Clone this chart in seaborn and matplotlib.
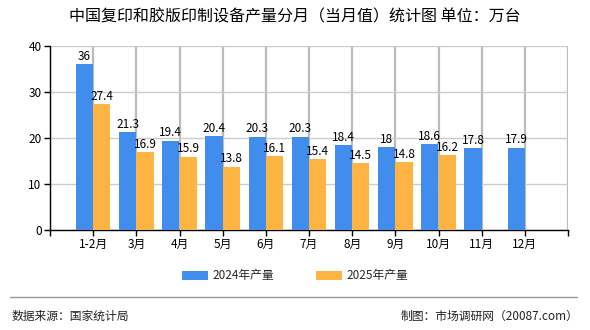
import matplotlib
matplotlib.use("Agg")
import matplotlib.pyplot as plt
import seaborn as sns
import pandas as pd
import numpy as np
from matplotlib.patches import Patch
from matplotlib.lines import Line2D

months = ["1-2月", "3月", "4月", "5月", "6月", "7月", "8月", "9月", "10月", "11月", "12月"]
v2024 = [36, 21.3, 19.4, 20.4, 20.3, 20.3, 18.4, 18, 18.6, 17.8, 17.9]
v2025 = [27.4, 16.9, 15.9, 13.8, 16.1, 15.4, 14.5, 14.8, 16.2, None, None]
series = ["2024年产量", "2025年产量"]
colors = ["#418DED", "#FDB443"]
title = "中国复印和胶版印制设备产量分月（当月值）统计图 单位：万台"
source = "数据来源：国家统计局"
credit = "制图：市场调研网（20087.com）"

sns.set_theme(style="white")
plt.rcParams["font.family"] = ["Noto Sans CJK SC", "DejaVu Sans"]

rows = []
for i, m in enumerate(months):
    rows.append({"pos": i + 1, "year": series[0], "value": v2024[i]})
    if v2025[i] is not None:
        rows.append({"pos": i + 1, "year": series[1], "value": v2025[i]})
df = pd.DataFrame(rows)

fig = plt.figure(figsize=(5.9, 3.3), dpi=100)
ax = fig.add_axes([50 / 590, 1 - 230 / 330, 518 / 590, 184 / 330])

sns.barplot(data=df, x="pos", y="value", hue="year", hue_order=series,
            palette=colors, native_scale=True, saturation=1, width=0.8,
            linewidth=0, ax=ax, legend=False, errorbar=None, zorder=3)

for c in ax.containers:
    labels = [f"{v:g}" for v in c.datavalues]
    ax.bar_label(c, labels=labels, padding=1, fontsize=8.5, color="black", zorder=4)

ax.set_xlim(0, 12)
ax.set_ylim(0, 40)
ax.set_xticks(range(0, 13))
ax.set_xticklabels([""] + months + [""], fontsize=8.5, color="black")
ax.set_yticks([0, 10, 20, 30, 40])
ax.set_yticklabels(["0", "10", "20", "30", "40"], fontsize=8.5, color="black")
ax.set_xlabel("")
ax.set_ylabel("")
ax.yaxis.grid(True, which="major", color="#cccccc", linewidth=1, zorder=0)
ax.xaxis.grid(True, which="major", color="#bbbbbb", linewidth=1.6, zorder=0)
ax.set_axisbelow(True)
for s in ["top", "right"]:
    ax.spines[s].set_visible(False)
for s in ["left", "bottom"]:
    ax.spines[s].set_color("black")
    ax.spines[s].set_linewidth(1)
ax.tick_params(axis="both", direction="out", length=4, width=1, color="black",
               bottom=True, left=True, pad=2)

handles = [Patch(facecolor=colors[0], edgecolor="none"),
           Patch(facecolor=colors[1], edgecolor="none")]
fig.legend(handles, series, loc="center", bbox_to_anchor=(0.5, 1 - 276 / 330),
           ncol=2, frameon=False, fontsize=8.5, handlelength=2.2, handleheight=0.8,
           columnspacing=3.5, handletextpad=0.4)

fig.text(0.5, 1 - 17 / 330, title, ha="center", va="center", fontsize=11.5, color="black")
fig.add_artist(Line2D([10 / 590, 577 / 590], [1 - 297 / 330, 1 - 297 / 330],
                      color="#999999", linewidth=1, transform=fig.transFigure))
fig.text(12 / 590, 1 - 316 / 330, source, ha="left", va="center", fontsize=8.5, color="#222222")
fig.text(578 / 590, 1 - 316 / 330, credit, ha="right", va="center", fontsize=8.5, color="#222222")

fig.savefig("out.png", dpi=100)
